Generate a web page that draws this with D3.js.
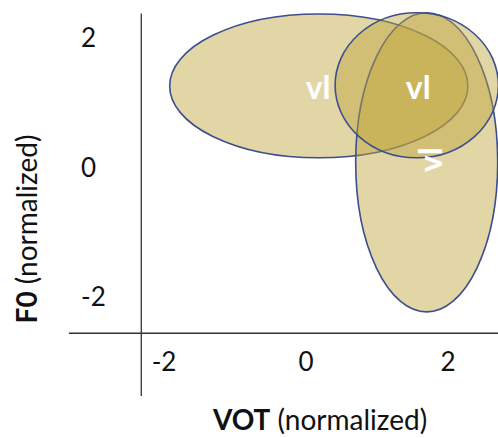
<!DOCTYPE html>
<html>
<head>
<meta charset="utf-8">
<script src="https://cdn.jsdelivr.net/npm/d3@7"></script>
<style>
  body { margin: 0; background: #fff; }
  svg { display: block; font-family: Lato, "Open Sans", sans-serif; }
</style>
</head>
<body>
<svg id="chart" width="498" height="438"></svg>
<script>
// Ellipses (normalized units): centre and radii
var ellipseNames = ["wide", "tall", "round"];
var ellipseCx = [0.18, 1.70, 1.56];
var ellipseCy = [1.26, 0.08, 1.27];
var ellipseRx = [2.10, 1.00, 1.15];
var ellipseRy = [1.11, 2.31, 1.12];

// Labels inside the ellipses
var labelText = ["vl", "vl", "vl"];
var labelX = [0.17, 1.58, 1.75];
var labelY = [1.23, 1.23, 0.12];
var labelAngle = [0, 0, -90];

// Axis ticks
var xTicks = [-2, 0, 2];
var yTicks = [2, 0, -2];

var svg = d3.select("#chart");

var x = d3.scaleLinear().domain([-2, 2]).range([164, 448]);
var y = d3.scaleLinear().domain([-2, 2]).range([297, 38]);

var kx = x(1) - x(0), ky = y(0) - y(1);

// Ellipses, drawn wide -> tall -> round so the round one sits on top
svg.append("g").selectAll("ellipse")
    .data(ellipseNames)
    .enter().append("ellipse")
    .attr("cx", function (d, i) { return x(ellipseCx[i]); })
    .attr("cy", function (d, i) { return y(ellipseCy[i]); })
    .attr("rx", function (d, i) { return ellipseRx[i] * kx; })
    .attr("ry", function (d, i) { return ellipseRy[i] * ky; })
    .attr("fill", "rgba(190,165,60,0.45)")
    .attr("stroke", "#3c4e8e")
    .attr("stroke-width", 1.6);

// White labels
svg.append("g").selectAll("text")
    .data(labelText)
    .enter().append("text")
    .attr("transform", function (d, i) { return "translate(" + x(labelX[i]) + "," + y(labelY[i]) + ") rotate(" + labelAngle[i] + ")"; })
    .attr("text-anchor", "middle")
    .attr("dy", "0.36em")
    .attr("fill", "#fff")
    .attr("font-weight", "bold")
    .attr("font-size", 32)
    .text(function (d) { return d; });

// Axis lines (no tick marks)
svg.append("line")
    .attr("x1", x(-2.32)).attr("x2", x(-2.32))
    .attr("y1", y(2.38)).attr("y2", y(-3.53))
    .attr("stroke", "#333").attr("stroke-width", 1.3);
svg.append("line")
    .attr("x1", x(-3.34)).attr("x2", x(2.72))
    .attr("y1", y(-2.56)).attr("y2", y(-2.56))
    .attr("stroke", "#333").attr("stroke-width", 1.3);

// Tick labels
svg.append("g").selectAll("text")
    .data(yTicks)
    .enter().append("text")
    .attr("x", 81)
    .attr("y", function (d) { return y(d); })
    .attr("dy", "0.36em")
    .attr("font-size", 26)
    .attr("fill", "#111")
    .text(function (d) { return d; });

svg.append("g").selectAll("text")
    .data(xTicks)
    .enter().append("text")
    .attr("x", function (d) { return x(d); })
    .attr("y", 362)
    .attr("dy", "0.36em")
    .attr("text-anchor", "middle")
    .attr("font-size", 26)
    .attr("fill", "#111")
    .text(function (d) { return d; });

// Axis titles
var xt = svg.append("text")
    .attr("x", 320).attr("y", 430)
    .attr("text-anchor", "middle")
    .attr("font-size", 28)
    .attr("fill", "#111");
xt.append("tspan").attr("font-weight", "bold").text("VOT");
xt.append("tspan").text(" (normalized)");

var yt = svg.append("text")
    .attr("transform", "translate(37,229) rotate(-90)")
    .attr("text-anchor", "middle")
    .attr("font-size", 28)
    .attr("fill", "#111");
yt.append("tspan").attr("font-weight", "bold").text("F0");
yt.append("tspan").text(" (normalized)");
</script>
</body>
</html>
